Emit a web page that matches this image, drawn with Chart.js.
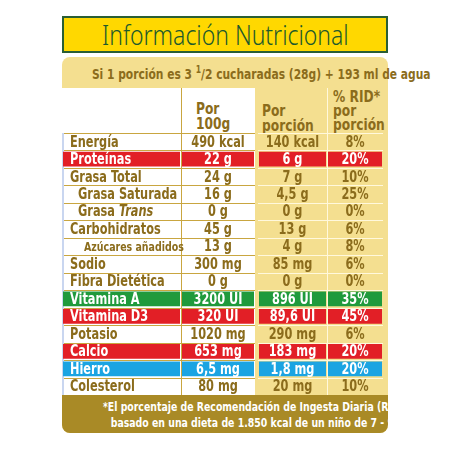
<!DOCTYPE html>
<html><head><meta charset="utf-8">
<script src="https://cdn.jsdelivr.net/npm/chart.js@4"></script>
<style>
body{margin:0;width:450px;height:450px;background:#fff;position:relative;overflow:hidden;font-family:'DejaVu Sans Condensed','DejaVu Sans',sans-serif;font-stretch:condensed;}
.c{position:absolute;color:#8b6c1c;font-weight:bold;white-space:nowrap;}
.sx{display:inline-block;transform-origin:center;}
</style></head><body>
<div id="wrap" style="position:absolute;left:0;top:0;width:450px;height:450px;"></div>
<script>
const rows = ['Energía','Proteínas','Grasa Total','Grasa Saturada','Grasa Trans','Carbohidratos','Azúcares añadidos','Sodio','Fibra Dietética','Vitamina A','Vitamina D3','Potasio','Calcio','Hierro','Colesterol'];
const per100 = ['490 kcal','22 g','24 g','16 g','0 g','45 g','13 g','300 mg','0 g','3200 UI','320 UI','1020 mg','653 mg','6,5 mg','80 mg'];
const perPortion = ['140 kcal','6 g','7 g','4,5 g','0 g','13 g','4 g','85 mg','0 g','896 UI','89,6 UI','290 mg','183 mg','1,8 mg','20 mg'];
const rid = ['8%','20%','10%','25%','0%','6%','8%','6%','0%','35%','45%','6%','20%','20%','10%'];
const highlight = ['','red','','','','','','','','green','red','','red','blue',''];
const indent = [0,0,0,1,1,0,2,0,0,0,0,0,0,0,0];
const colBounds = [[0,119],[119,193],[196,265],[265,321]];
const colTexts = [rows, per100, perPortion, rid];

const HL = {red:'#e21f26', green:'#1f9a3c', blue:'#1ba4e2'};
const OL = '#8b6c1c';
const html = `
<div style="position:absolute;left:62px;top:57px;width:326px;height:376px;background:#f4df90;border-radius:8px;"></div>
<div style="position:absolute;left:62px;top:16px;width:326px;height:37px;background:#ffd800;border:2px solid #2a5e34;box-sizing:border-box;"></div>
<div style="position:absolute;left:62px;top:16px;width:326px;height:37px;text-align:center;line-height:37px;font-family:'Noto Sans';font-weight:300;font-size:28px;color:#1d5a2c;white-space:nowrap;"><span class="sx" style="transform:scaleX(0.82)">Información Nutricional</span></div>
<div class="c" style="left:62px;top:64px;width:326px;text-align:center;font-size:14px;"><span class="sx" style="transform:scaleX(0.85)">Si 1 porción es 3 <sup style="font-size:10px">1</sup>/2 cucharadas (28g) + 193 ml de agua</span></div>
<div style="position:absolute;left:62px;top:88px;width:193px;height:45px;background:#fff;"></div>
<div style="position:absolute;left:181px;top:88px;width:1px;height:45px;background:#c9a640;"></div>
<div style="position:absolute;left:327px;top:88px;width:1px;height:45px;background:#fff8dc;"></div>
<div class="c" style="left:196px;top:101px;font-size:16px;line-height:15px;"><span class="sx" style="transform:scaleX(0.85);transform-origin:left">Por<br>100g</span></div>
<div class="c" style="left:262px;top:103px;font-size:16px;line-height:15px;"><span class="sx" style="transform:scaleX(0.85);transform-origin:left">Por<br>porción</span></div>
<div class="c" style="left:333px;top:90px;font-size:16px;line-height:14px;"><span class="sx" style="transform:scaleX(0.85);transform-origin:left">% RID*<br>por<br>porción</span></div>
<div style="position:absolute;left:62px;top:395px;width:326px;height:38px;background:#a98a26;border-radius:0 0 8px 8px;"></div>
<div class="c" style="left:62px;top:399px;width:326px;text-align:center;color:#fff;font-size:13px;line-height:16px;"><span class="sx" style="transform:scaleX(0.8)">*El porcentaje de Recomendación de Ingesta Diaria (RID) está<br>basado en una dieta de 1.850 kcal de un niño de 7 - 9 años</span></div>
<canvas id="cv" style="position:absolute;left:62px;top:133px;"></canvas>`;
document.getElementById('wrap').innerHTML = html;
const cv = document.getElementById('cv');
cv.style.width='326px'; cv.style.height='262px';

const datasets = colBounds.map((b, ci) => ({
  data: rows.map(() => [b[0]+1, b[1]-1]),
  backgroundColor: rows.map((r, ri) => highlight[ri] ? HL[highlight[ri]] : 'rgba(0,0,0,0)'),
  barPercentage: 0.85, categoryPercentage: 1, grouped:false
}));

const SX = 0.84;
const bgPlugin = {
  id:'bg',
  beforeDatasetsDraw(chart){
    const {ctx, scales:{x,y}} = chart;
    const top=y.top, bot=y.bottom;
    ctx.save();
    ctx.fillStyle='#fff';
    ctx.fillRect(x.getPixelForValue(0), top, x.getPixelForValue(193)-x.getPixelForValue(0), bot-top);
    ctx.fillStyle='#f4df90';
    ctx.fillRect(x.getPixelForValue(196), top, x.getPixelForValue(321)-x.getPixelForValue(196), bot-top);
    const step = (bot-top)/rows.length;
    for(let i=0;i<rows.length;i++){
      const yy = Math.round(top+i*step)+0.5;
      ctx.strokeStyle='#c9a640'; ctx.lineWidth=1;
      ctx.beginPath(); ctx.moveTo(x.getPixelForValue(0),yy); ctx.lineTo(x.getPixelForValue(193),yy); ctx.stroke();
      ctx.strokeStyle='#fff8dc';
      ctx.beginPath(); ctx.moveTo(x.getPixelForValue(196),yy); ctx.lineTo(x.getPixelForValue(321),yy); ctx.stroke();
    }
    ctx.strokeStyle='#c9a640';
    let xx=Math.round(x.getPixelForValue(119))+0.5;ctx.beginPath();ctx.moveTo(xx,top);ctx.lineTo(xx,bot);ctx.stroke();
    ctx.strokeStyle='#fff8dc';
    xx=Math.round(x.getPixelForValue(265))+0.5;ctx.beginPath();ctx.moveTo(xx,top);ctx.lineTo(xx,bot);ctx.stroke();
    ctx.strokeStyle='#c9d6f0'; ctx.lineWidth=2;
    ctx.beginPath();ctx.moveTo(x.getPixelForValue(0)+1,top);ctx.lineTo(x.getPixelForValue(0)+1,bot);ctx.stroke();
    ctx.restore();
  },
  afterDatasetsDraw(chart){
    const {ctx, scales:{x,y}} = chart;
    const F = "'DejaVu Sans Condensed','DejaVu Sans',sans-serif";
    const draw = (t, px, py, font, align) => {
      ctx.save(); ctx.translate(px, py); ctx.scale(SX, 1);
      ctx.font = font; ctx.textAlign = align; ctx.textBaseline='middle';
      ctx.fillText(t, 0, 0);
      const w = ctx.measureText(t).width*SX;
      ctx.restore(); return w;
    };
    colTexts.forEach((arr, ci) => {
      arr.forEach((t, ri) => {
        const yy = y.getPixelForValue(ri)+1;
        ctx.fillStyle = highlight[ri] ? '#fff' : OL;
        const size = (ci===0 && indent[ri]===2) ? 12.5 : 15;
        const font = `bold ${size}px ${F}`;
        if(ci===0){
          const px = x.getPixelForValue(0)+8+(indent[ri]===1?8:indent[ri]===2?14:0);
          if(t==='Grasa Trans'){
            const w = draw('Grasa ', px, yy, font, 'left');
            draw('Trans', px+w, yy, `italic bold ${size}px ${F}`, 'left');
          } else draw(t, px, yy, font, 'left');
        } else {
          const b = colBounds[ci];
          draw(t, x.getPixelForValue((b[0]+b[1])/2), yy, font, 'center');
        }
      });
    });
  }
};

new Chart(cv, {
  type:'bar',
  data:{labels: rows, datasets},
  options:{
    indexAxis:'y', responsive:false, animation:false, devicePixelRatio:1,
    layout:{padding:0},
    plugins:{legend:{display:false}, tooltip:{enabled:false}},
    scales:{
      x:{type:'linear', min:0, max:326, display:false},
      y:{type:'category', display:false, offset:true}
    }
  },
  plugins:[bgPlugin]
});
</script></body></html>
